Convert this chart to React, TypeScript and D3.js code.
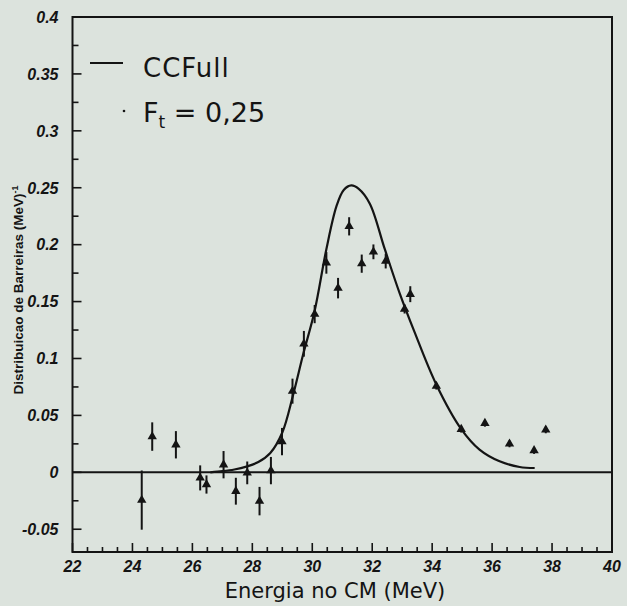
import React from "react";
import * as d3 from "d3";

// Experimental barrier distribution (triangles with error bars)
const energies = [24.31, 24.66, 25.45, 26.26, 26.47, 27.04, 27.45, 27.83, 28.24, 28.62, 28.99, 29.34, 29.72, 30.08, 30.47, 30.86, 31.23, 31.65, 32.04, 32.45, 33.08, 33.27, 34.14, 34.97, 35.76, 36.58, 37.4, 37.79];
const values = [-0.0244, 0.0314, 0.0242, -0.0049, -0.0107, 0.0067, -0.0166, -0.0005, -0.0253, 0.0015, 0.027, 0.0713, 0.1129, 0.139, 0.184, 0.1618, 0.2161, 0.1833, 0.1937, 0.1856, 0.1435, 0.1565, 0.0757, 0.0379, 0.0431, 0.025, 0.0192, 0.0373];
const errors = [0.026, 0.0125, 0.012, 0.011, 0.008, 0.012, 0.0118, 0.01, 0.0125, 0.012, 0.012, 0.011, 0.0113, 0.008, 0.0095, 0.009, 0.008, 0.008, 0.0065, 0.0065, 0.004, 0.007, 0.003, 0.003, 0.003, 0.003, 0.003, 0.003];

// CCFull calculation (Ft = 0,25)
const curveE = [26.6, 27.0, 27.4, 27.8, 28.2, 28.6, 29.0, 29.36, 29.69, 30.08, 30.47, 30.81, 31.05, 31.3, 31.55, 31.92, 32.42, 32.92, 33.4, 34.14, 34.97, 35.58, 36.25, 36.92, 37.42];
const curveD = [0.0, 0.001, 0.0025, 0.005, 0.009, 0.017, 0.035, 0.068, 0.103, 0.142, 0.196, 0.234, 0.248, 0.252, 0.249, 0.236, 0.196, 0.157, 0.124, 0.077, 0.038, 0.02, 0.0097, 0.0047, 0.0038];

const xMajorTicks = [22, 24, 26, 28, 30, 32, 34, 36, 38, 40];
const xTickLabels = ["22", "24", "26", "28", "30", "32", "34", "36", "38", "40"];
const yMajorTicks = [-0.05, 0, 0.05, 0.1, 0.15, 0.2, 0.25, 0.3, 0.35, 0.4];
const yTickLabels = ["-0.05", "0", "0.05", "0.1", "0.15", "0.2", "0.25", "0.3", "0.35", "0.4"];

const W = 627;
const H = 606;
const L = 72.5, R = 612, T = 17, B = 552;
const INK = "#141414";

export default function App() {
  const x = d3.scaleLinear().domain([22, 40]).range([L, R]);
  const y = d3.scaleLinear().domain([-0.07, 0.4]).range([B, T]);

  const xMinor = d3.range(22, 40.001, 0.5).filter((v) => !xMajorTicks.some((m) => Math.abs(m - v) < 1e-6));
  const yMinor = d3.range(-0.05, 0.4001, 0.025).filter((v) => !yMajorTicks.some((m) => Math.abs(m - v) < 1e-6));

  const line = d3
    .line<number>()
    .x((_, i) => x(curveE[i]))
    .y((d) => y(d))
    .curve(d3.curveCatmullRom.alpha(0.5));

  const tri = d3.symbol().type(d3.symbolTriangle).size(38)();

  return (
    <svg width={W} height={H} style={{ position: "absolute", left: 0, top: 0, background: "#dce3dd" }}>
      <rect x={0} y={0} width={W} height={H} fill="#dce3dd" />
      {/* frame */}
      <rect x={L} y={T} width={R - L} height={B - T} fill="none" stroke={INK} strokeWidth={2} />
      {/* zero line */}
      <line x1={L} x2={R} y1={y(0)} y2={y(0)} stroke={INK} strokeWidth={2} />

      {/* x ticks */}
      {xMajorTicks.map((t) => (
        <line key={"xM" + t} x1={x(t)} x2={x(t)} y1={B} y2={B - 9} stroke={INK} strokeWidth={1.6} />
      ))}
      {xMinor.map((t) => (
        <line key={"xm" + t} x1={x(t)} x2={x(t)} y1={B} y2={B - 5} stroke={INK} strokeWidth={1.6} />
      ))}
      {xMajorTicks.map((t, i) => (
        <text
          key={"xl" + t}
          x={x(t)}
          y={572}
          textAnchor="middle"
          fontFamily="Liberation Sans, Arial, sans-serif"
          fontStyle="italic"
          fontWeight="bold"
          fontSize={16}
          fill={INK}
        >
          {xTickLabels[i]}
        </text>
      ))}

      {/* y ticks */}
      {yMajorTicks.map((t) => (
        <line key={"yM" + t} x1={L} x2={L + 9} y1={y(t)} y2={y(t)} stroke={INK} strokeWidth={1.6} />
      ))}
      {yMinor.map((t) => (
        <line key={"ym" + t} x1={L} x2={L + 6} y1={y(t)} y2={y(t)} stroke={INK} strokeWidth={1.6} />
      ))}
      {yMajorTicks.map((t, i) => (
        <text
          key={"yl" + t}
          x={L - 14}
          y={y(t)}
          dy="0.36em"
          textAnchor="end"
          fontFamily="Liberation Sans, Arial, sans-serif"
          fontStyle="italic"
          fontWeight="bold"
          fontSize={16}
          fill={INK}
        >
          {yTickLabels[i]}
        </text>
      ))}

      {/* axis titles */}
      <text
        x={335}
        y={598}
        textAnchor="middle"
        fontFamily="DejaVu Sans, sans-serif"
        fontSize={21}
        fill={INK}
      >
        Energia no CM (MeV)
      </text>
      <text
        transform={`translate(23,290) rotate(-90)`}
        textAnchor="middle"
        fontFamily="Liberation Sans, Arial, sans-serif"
        fontWeight="bold"
        fontSize={13.5}
        fill={INK}
      >
        Distribuicao de Barreiras (MeV)
        <tspan dy={-5} fontSize={9}>
          -1
        </tspan>
      </text>

      {/* CCFull curve */}
      <path d={line(curveD) || ""} fill="none" stroke={INK} strokeWidth={2.2} />

      {/* data */}
      {energies.map((e, i) => (
        <g key={"p" + i}>
          <line
            x1={x(e)}
            x2={x(e)}
            y1={y(values[i] - errors[i])}
            y2={y(values[i] + errors[i])}
            stroke={INK}
            strokeWidth={2}
          />
          <path d={tri || ""} transform={`translate(${x(e)},${y(values[i])})`} fill={INK} />
        </g>
      ))}

      {/* legend */}
      <line x1={90} x2={123} y1={63} y2={63} stroke={INK} strokeWidth={2} />
      <text x={143} y={77} fontFamily="DejaVu Sans, sans-serif" fontSize={26} letterSpacing={1} fill={INK}>
        CCFull
      </text>
      <circle cx={124} cy={111} r={1.3} fill={INK} />
      <text x={143} y={122} fontFamily="DejaVu Sans, sans-serif" fontSize={27} fill={INK}>
        F
        <tspan fontSize={17} dy={6}>
          t
        </tspan>
        <tspan dy={-6}> = 0,25</tspan>
      </text>
    </svg>
  );
}
